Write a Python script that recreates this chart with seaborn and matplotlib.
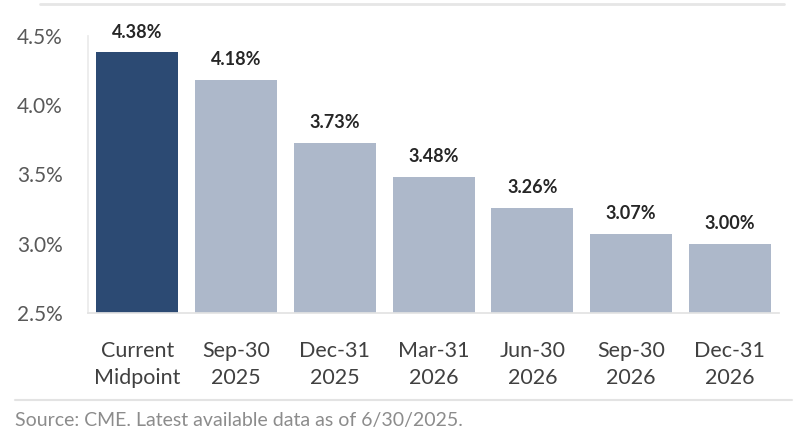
import matplotlib
matplotlib.use("Agg")
import matplotlib.pyplot as plt
import seaborn as sns
import pandas as pd
from matplotlib.ticker import FuncFormatter, FixedLocator

categories = ["Current\nMidpoint", "Sep-30\n2025", "Dec-31\n2025", "Mar-31\n2026",
              "Jun-30\n2026", "Sep-30\n2026", "Dec-31\n2026"]
rates = [4.38, 4.18, 3.73, 3.48, 3.26, 3.07, 3.00]
bar_colors = ["#2C4A73", "#ADB8CA", "#ADB8CA", "#ADB8CA", "#ADB8CA", "#ADB8CA", "#ADB8CA"]
yticks = [2.5, 3.0, 3.5, 4.0, 4.5]
source_text = "Source: CME. Latest available data as of 6/30/2025."

sns.set_theme(style="white")
plt.rcParams['font.family'] = ['Lato', 'DejaVu Sans']

df = pd.DataFrame({"cat": categories, "rate": rates})

fig = plt.figure(figsize=(8, 4.48), dpi=100)
ax = fig.add_axes([0.11, 0.301, 0.864, 0.619])
sns.barplot(data=df, x="cat", y="rate", hue="cat", palette=bar_colors,
            width=0.83, legend=False, ax=ax, saturation=1)
for p in ax.patches:
    p.set_edgecolor("none")

ax.set_ylim(2.5, 4.5)
ax.set_xlim(-0.5, len(categories) - 0.5)
ax.set_yticks(yticks)
ax.yaxis.set_major_formatter(FuncFormatter(lambda v, _: f"{v:.1f}%"))
ax.set_xlabel("")
ax.set_ylabel("")

for i, v in enumerate(rates):
    ax.text(i, v + 0.085, f"{v:.2f}%", ha="center", va="bottom",
            fontsize=13, fontweight="bold", color="#262626")

ax.tick_params(axis="y", labelsize=15, colors="#595959", length=0, pad=18)
ax.tick_params(axis="x", labelsize=15.5, colors="#404040", length=0, pad=20)
for lbl in ax.get_xticklabels():
    lbl.set_linespacing(1.45)
ax.xaxis.set_minor_locator(FixedLocator([i + 0.5 for i in range(-1, len(categories))]))
ax.tick_params(axis="x", which="minor", length=5, color="#E3E3E3", width=1)

for s in ["top", "right"]:
    ax.spines[s].set_visible(False)
ax.spines["left"].set_color("#EBEBEB")
ax.spines["bottom"].set_color("#E3E3E3")
ax.grid(False)

fig.add_artist(plt.Line2D([0.05, 0.98], [1 - 4 / 448, 1 - 4 / 448], color="#E6E6E6", lw=2))
fig.add_artist(plt.Line2D([0.019, 0.99], [1 - 400 / 448, 1 - 400 / 448], color="#E3E3E3", lw=1.5))
fig.text(0.019, 1 - 420 / 448, source_text, fontsize=14, color="#8C8C8C", va="center", ha="left")

fig.savefig("out.png", dpi=100, facecolor="white")
